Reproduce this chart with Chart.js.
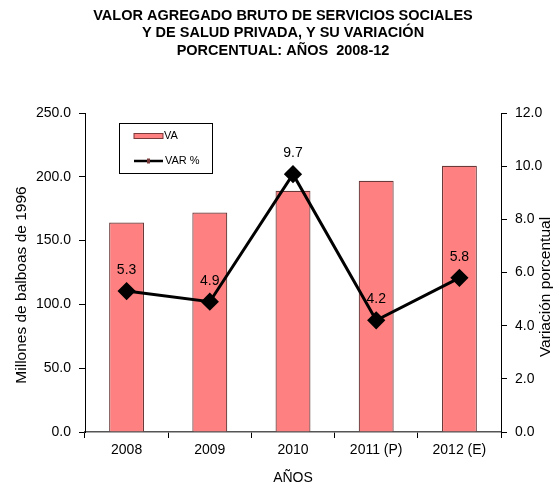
<!DOCTYPE html>
<html>
<head>
<meta charset="utf-8">
<script src="https://cdn.jsdelivr.net/npm/chart.js@4"></script>
<style>
  html, body { margin: 0; padding: 0; background: #fff; }
  #wrap { width: 556px; height: 487px; }
</style>
</head>
<body>
<div id="wrap"><canvas id="vabChart" width="556" height="487"></canvas></div>
<script>
const years = ['2008', '2009', '2010', '2011 (P)', '2012 (E)'];
const vaValues = [164.1, 172.0, 189.0, 196.9, 208.6];
const varValues = [5.3, 4.9, 9.7, 4.2, 5.8];
const titleLines = ['VALOR AGREGADO BRUTO DE SERVICIOS SOCIALES', 'Y DE SALUD PRIVADA, Y SU VARIACIÓN', 'PORCENTUAL: AÑOS  2008-12'];

const FONT = '"Liberation Sans", Arial, sans-serif';

// title, axis titles, legend box and point labels
const extras = {
    id: 'extras',
    afterDraw(chart) {
        const ctx = chart.ctx;
        ctx.save();
        ctx.fillStyle = '#000';
        ctx.textAlign = 'center';
        ctx.textBaseline = 'middle';
        ctx.font = 'bold 14.5px ' + FONT;
        titleLines.forEach((t, i) => ctx.fillText(t, 283, 16 + i * 17.3));

        // side titles
        ctx.font = '15.5px ' + FONT;
        ctx.save();
        ctx.translate(22, 285);
        ctx.rotate(-Math.PI / 2);
        ctx.fillText('Millones de balboas de 1996', 0, 0);
        ctx.restore();
        ctx.save();
        ctx.translate(546, 287);
        ctx.rotate(-Math.PI / 2);
        ctx.fillText('Variación porcentual', 0, 0);
        ctx.restore();

        // labels over line points
        ctx.font = '14px ' + FONT;
        const meta = chart.getDatasetMeta(1);
        meta.data.forEach((pt, i) => {
            ctx.fillText(varValues[i].toFixed(1), pt.x, pt.y - 21);
        });

        // legend
        ctx.fillStyle = '#fff';
        ctx.fillRect(119.5, 123.5, 93, 50);
        ctx.strokeStyle = '#000';
        ctx.lineWidth = 1;
        ctx.strokeRect(119.5, 123.5, 93, 50);
        ctx.fillStyle = '#FF8080';
        ctx.fillRect(134, 133.5, 29, 5);
        ctx.strokeStyle = '#7a3a3a';
        ctx.strokeRect(134, 133.5, 29, 5);
        ctx.strokeStyle = '#000';
        ctx.lineWidth = 2.5;
        ctx.beginPath();
        ctx.moveTo(134, 161);
        ctx.lineTo(163, 161);
        ctx.stroke();
        ctx.fillStyle = '#7a3a3a';
        ctx.fillRect(147, 158.5, 3, 5);
        ctx.fillStyle = '#000';
        ctx.textAlign = 'left';
        ctx.font = '11px ' + FONT;
        ctx.fillText('VA', 164, 136);
        ctx.fillText('VAR %', 165, 161);
        ctx.restore();
    }
};

window.onload = () => {
    const ctx = document.getElementById('vabChart').getContext('2d');
    Chart.defaults.font.family = FONT;
    Chart.defaults.color = '#000';
    new Chart(ctx, {
        type: 'bar',
        data: {
            labels: years,
            datasets: [{
                label: 'VA',
                data: vaValues,
                yAxisID: 'y',
                backgroundColor: '#FF8080',
                borderColor: '#6a3a3a',
                borderWidth: 1.2,
                barPercentage: 0.42,
                categoryPercentage: 1,
                order: 1
            }, {
                type: 'line',
                label: 'VAR %',
                data: varValues,
                yAxisID: 'y1',
                borderColor: '#000',
                borderWidth: 3,
                pointStyle: 'rectRot',
                pointRadius: 7,
                pointBackgroundColor: '#000',
                pointBorderColor: '#000',
                tension: 0,
                order: 0
            }]
        },
        options: {
            responsive: false,
            animation: false,
            layout: { padding: { top: 113, left: 0, right: 0, bottom: 0 } },
            plugins: {
                legend: { display: false },
                tooltip: { enabled: false }
            },
            scales: {
                x: {
                    offset: true,
                    grid: { display: true, drawOnChartArea: false, offset: true, color: '#000', tickLength: 6 },
                    border: { color: '#555', width: 1.5 },
                    ticks: { font: { size: 14 }, padding: 4 },
                    title: { display: true, text: 'AÑOS', font: { size: 14 }, padding: { top: 6, bottom: 0 } },
                    afterFit(s) { s.height = 55; }
                },
                y: {
                    position: 'left',
                    min: 0, max: 250,
                    ticks: { stepSize: 50, font: { size: 14 }, padding: 8, callback: v => v.toFixed(1) },
                    grid: { drawOnChartArea: false, color: '#000', tickLength: 6 },
                    border: { color: '#000', width: 1 },
                    afterFit(s) { s.width = 85; }
                },
                y1: {
                    position: 'right',
                    min: 0, max: 12,
                    ticks: { stepSize: 2, font: { size: 14 }, padding: 8, callback: v => v.toFixed(1) },
                    grid: { drawOnChartArea: false, color: '#000', tickLength: 6 },
                    border: { color: '#000', width: 1 },
                    afterFit(s) { s.width = 55; }
                }
            }
        },
        plugins: [extras]
    });
};
</script>
</body>
</html>
